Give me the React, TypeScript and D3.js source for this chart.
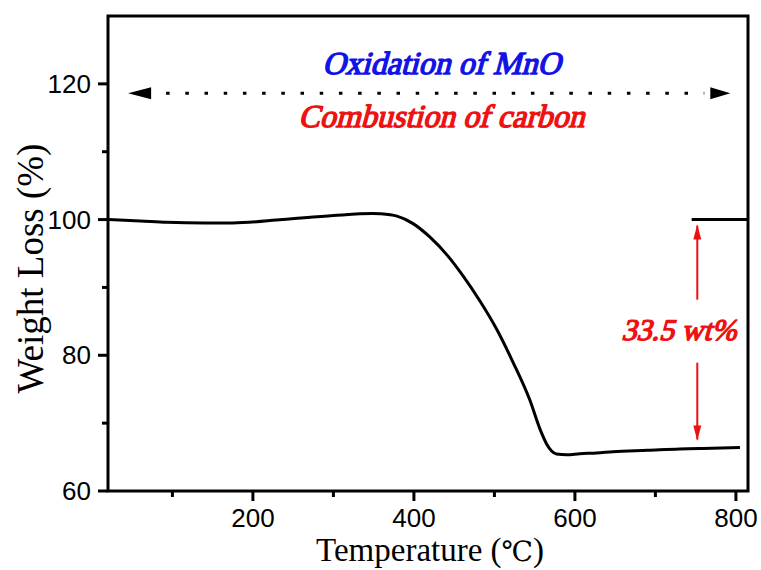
import React from 'react';
import * as d3 from 'd3';

// TGA curve
const temperature = [20, 60, 93, 140, 175, 237, 300, 349, 358, 379, 399, 420, 441, 461, 482, 503, 523, 544, 557, 565, 571, 577, 590, 606, 627, 647, 690, 730, 770, 805];
const weight = [100, 99.8, 99.6, 99.5, 99.5, 100, 100.6, 100.9, 100.85, 100.5, 99.4, 97.4, 94.8, 91.7, 88.0, 83.8, 79.0, 73.4, 69.0, 66.9, 65.9, 65.45, 65.35, 65.5, 65.6, 65.8, 66.0, 66.2, 66.3, 66.4];

const xTicks = [200, 400, 600, 800];
const xMinor = [100, 300, 500, 700];
const yTicks = [60, 80, 100, 120];
const yMinor = [70, 90, 110];

// annotation anchors (data units)
const refLevel = { from: 745, to: 815, value: 100 };
const lossArrow = { temp: 752, top: 100, bottom: 66.4, label: '33.5 wt%', labelTemp: 729, labelValue: 82.3 };
const rangeArrow = { from: 45, to: 793, value: 118.6 };
const topLabels = [
  { text: 'Oxidation of MnO', temp: 434, value: 121.5, color: '#1212e6' },
  { text: 'Combustion of carbon', temp: 434, value: 113.7, color: '#ee1111' },
];

const W = 761;
const H = 570;
const margin = { top: 16, right: 13, bottom: 79, left: 108 };

// Times-like bold italic: regular serif, skewed and stroked
function BoldItalic({ x, y, size, color, children }: { x: number; y: number; size: number; color: string; children: React.ReactNode }) {
  return (
    <text transform={`translate(${x},${y}) skewX(-15)`} textAnchor="middle" fill={color} stroke={color}
      strokeWidth={1.4} strokeLinejoin="round" fontFamily="Liberation Serif" fontSize={size}>
      {children}
    </text>
  );
}

export default function App() {
  const iw = W - margin.left - margin.right;
  const ih = H - margin.top - margin.bottom;

  const x = d3.scaleLinear().domain([20, 815]).range([0, iw]);
  const y = d3.scaleLinear().domain([60, 130]).range([ih, 0]);

  const pts = temperature.map((t, i) => [t, weight[i]] as [number, number]);
  const line = d3.line<[number, number]>()
    .x(d => x(d[0]))
    .y(d => y(d[1]))
    .curve(d3.curveMonotoneX);

  const serif = '"Liberation Serif", "Times New Roman", serif';
  const sans = '"Liberation Sans", Arial, sans-serif';

  const ax = x(lossArrow.temp);
  const labelY = y(lossArrow.labelValue);

  return (
    <svg width={W} height={H} style={{ position: 'absolute', left: 0, top: 0, background: '#fff' }}>
      <g transform={`translate(${margin.left},${margin.top})`}>
        {/* curve */}
        <path d={line(pts) || ''} fill="none" stroke="#000" strokeWidth={3} strokeLinejoin="round" />

        {/* 100% reference line */}
        <line x1={x(refLevel.from)} x2={x(refLevel.to)} y1={y(refLevel.value)} y2={y(refLevel.value)} stroke="#000" strokeWidth={3} />

        {/* red loss arrow, split around label */}
        <line x1={ax} x2={ax} y1={labelY - 40} y2={y(lossArrow.top) + 6} stroke="#ee1111" strokeWidth={2} />
        <path d={`M${ax - 4},${y(lossArrow.top) + 20} L${ax},${y(lossArrow.top) + 5} L${ax + 4},${y(lossArrow.top) + 20} Z`} fill="#ee1111" />
        <line x1={ax} x2={ax} y1={labelY + 23} y2={y(lossArrow.bottom) - 8} stroke="#ee1111" strokeWidth={2} />
        <path d={`M${ax - 4},${y(lossArrow.bottom) - 22} L${ax},${y(lossArrow.bottom) - 7} L${ax + 4},${y(lossArrow.bottom) - 22} Z`} fill="#ee1111" />
        <BoldItalic x={x(lossArrow.labelTemp)} y={labelY} size={30} color="#ee1111">{lossArrow.label}</BoldItalic>

        {/* dotted double arrow */}
        <line x1={x(rangeArrow.from) + 38} x2={x(rangeArrow.to) - 26} y1={y(rangeArrow.value)} y2={y(rangeArrow.value)}
          stroke="#000" strokeWidth={3} strokeDasharray="3.5,15.7" />
        <path d={`M${x(rangeArrow.from)},${y(rangeArrow.value)} L${x(rangeArrow.from) + 23},${y(rangeArrow.value) - 6} L${x(rangeArrow.from) + 23},${y(rangeArrow.value) + 6} Z`} fill="#000" />
        <path d={`M${x(rangeArrow.to)},${y(rangeArrow.value)} L${x(rangeArrow.to) - 20},${y(rangeArrow.value) - 6} L${x(rangeArrow.to) - 20},${y(rangeArrow.value) + 6} Z`} fill="#000" />

        {topLabels.map(l => (
          <BoldItalic key={l.text} x={x(l.temp)} y={y(l.value)} size={32} color={l.color}>{l.text}</BoldItalic>
        ))}

        {/* frame */}
        <rect x={0} y={0} width={iw} height={ih} fill="none" stroke="#000" strokeWidth={3} />

        {/* x ticks */}
        {xTicks.map(t => (
          <g key={t} transform={`translate(${x(t)},${ih})`}>
            <line y1={0} y2={10} stroke="#000" strokeWidth={3} />
            <text y={36} textAnchor="middle" fontFamily={sans} fontSize={26} fill="#000">{t}</text>
          </g>
        ))}
        {xMinor.map(t => (
          <line key={t} x1={x(t)} x2={x(t)} y1={ih} y2={ih + 6} stroke="#000" strokeWidth={3} />
        ))}

        {/* y ticks */}
        {yTicks.map(t => (
          <g key={t} transform={`translate(0,${y(t)})`}>
            <line x1={0} x2={-10} stroke="#000" strokeWidth={3} />
            <text x={-17} dy="0.35em" textAnchor="end" fontFamily={sans} fontSize={26} fill="#000">{t}</text>
          </g>
        ))}
        {yMinor.map(t => (
          <line key={t} x1={0} x2={-6} y1={y(t)} y2={y(t)} stroke="#000" strokeWidth={3} />
        ))}

        {/* axis titles */}
        <text x={x(420)} y={ih + 70} textAnchor="middle" fontFamily={serif} fontSize={33} fill="#000">
          Temperature (<tspan fontFamily='"DejaVu Serif"' fontSize={28}>℃</tspan>)
        </text>
        <text transform={`translate(${-65},${ih / 2 + 15}) rotate(-90)`} textAnchor="middle" fontFamily={serif} fontSize={37} fill="#000">
          Weight Loss (%)
        </text>
      </g>
    </svg>
  );
}
